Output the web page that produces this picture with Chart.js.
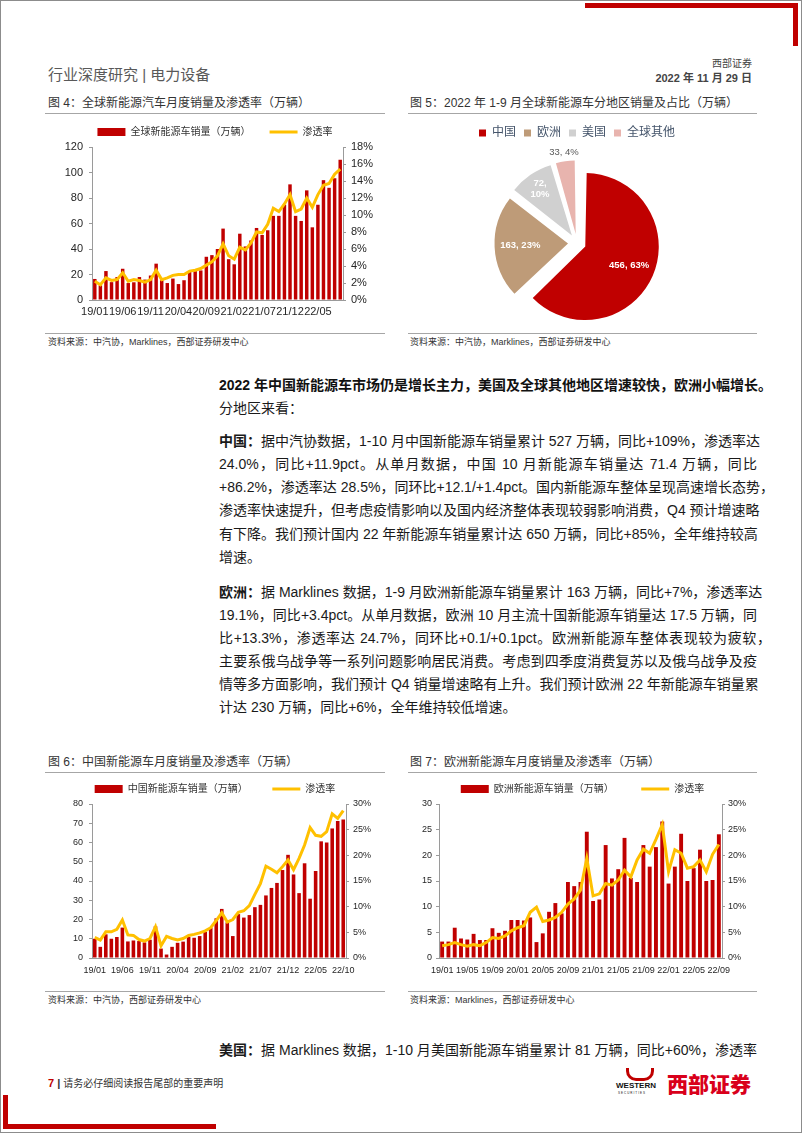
<!DOCTYPE html>
<html>
<head>
<meta charset="utf-8">
<script src="https://cdn.jsdelivr.net/npm/chart.js@4.4.1/dist/chart.umd.min.js"></script>
<style>
html, body { margin: 0; padding: 0; background: #fff; }
body { width: 802px; height: 1133px; position: relative; overflow: hidden;
       font-family: "Liberation Sans", Arial, "Noto Sans CJK SC", sans-serif; color: #222; }
.frame { position: absolute; left: 0; top: 0; width: 800px; height: 1131px; border: 1px solid #8c8c8c; }
.abs { position: absolute; white-space: nowrap; }
.bar { position: absolute; background: #C00000; }
.figtitle { font-size: 12px; color: #333; line-height: 14px; }
.rule { position: absolute; height: 1px; background: #a6a6a6; }
.src { font-size: 9px; color: #333; line-height: 12px; }
.ln { position: absolute; left: 219px; width: 538px; font-size: 14px; line-height: 20px;
      white-space: nowrap; text-align: justify; text-align-last: justify; color: #1a1a1a; }
.ln.end { text-align-last: left; }
.ln.hang { width: 552px; }
canvas { position: absolute; }
</style>
</head>
<body>
<div class="frame"></div>

<!-- header -->
<div class="bar" style="left:585px;top:3px;width:213px;height:5px"></div>
<div class="bar" style="left:793px;top:3px;width:5px;height:43px"></div>
<div class="abs" style="left:48px;top:63px;font-size:15px;color:#595959">行业深度研究 | 电力设备</div>
<div class="abs" style="right:50px;top:55px;font-size:10px;color:#444">西部证券</div>
<div class="abs" style="right:50px;top:69px;font-size:11px;color:#444;font-weight:bold">2022 年 11 月 29 日</div>

<!-- figure titles -->
<div class="abs figtitle" style="left:48px;top:96px">图 4：全球新能源汽车月度销量及渗透率（万辆）</div>
<div class="rule" style="left:45px;top:113px;width:340px"></div>
<div class="abs figtitle" style="left:410px;top:96px">图 5：2022 年 1-9 月全球新能源车分地区销量及占比（万辆）</div>
<div class="rule" style="left:408px;top:113px;width:349px"></div>
<div class="rule" style="left:45px;top:333px;width:340px"></div>
<div class="abs src" style="left:48px;top:336px">资料来源：中汽协，Marklines，西部证券研发中心</div>
<div class="rule" style="left:408px;top:333px;width:349px"></div>
<div class="abs src" style="left:410px;top:336px">资料来源：中汽协，Marklines，西部证券研发中心</div>

<canvas id="globalChart" width="340" height="203" style="left:45px;top:119px"></canvas>
<canvas id="regionChart" width="352" height="218" style="left:408px;top:119px"></canvas>

<!-- body text -->
<div class="abs" style="left:219px;top:375px;font-size:14px;line-height:20px;font-weight:bold;color:#111">2022 年中国新能源车市场仍是增长主力，美国及全球其他地区增速较快，欧洲小幅增长。</div>
<div class="abs" style="left:219px;top:398px;font-size:14px;line-height:20px;color:#1a1a1a">分地区来看：</div>

<div class="ln" style="top:431px"><b>中国：</b>据中汽协数据，1-10 月中国新能源车销量累计 527 万辆，同比+109%，渗透率达</div>
<div class="ln" style="top:454px">24.0%，同比+11.9pct。从单月数据，中国 10 月新能源车销量达 71.4 万辆，同比</div>
<div class="ln hang" style="top:477px">+86.2%，渗透率达 28.5%，同环比+12.1/+1.4pct。国内新能源车整体呈现高速增长态势，</div>
<div class="ln" style="top:500px">渗透率快速提升，但考虑疫情影响以及国内经济整体表现较弱影响消费，Q4 预计增速略</div>
<div class="ln" style="top:524px">有下降。我们预计国内 22 年新能源车销量累计达 650 万辆，同比+85%，全年维持较高</div>
<div class="ln end" style="top:547px">增速。</div>

<div class="ln" style="top:582px"><b>欧洲：</b>据 Marklines 数据，1-9 月欧洲新能源车销量累计 163 万辆，同比+7%，渗透率达</div>
<div class="ln" style="top:605px">19.1%，同比+3.4pct。从单月数据，欧洲 10 月主流十国新能源车销量达 17.5 万辆，同</div>
<div class="ln hang" style="top:628px">比+13.3%，渗透率达 24.7%，同环比+0.1/+0.1pct。欧洲新能源车整体表现较为疲软，</div>
<div class="ln" style="top:651px">主要系俄乌战争等一系列问题影响居民消费。考虑到四季度消费复苏以及俄乌战争及疫</div>
<div class="ln" style="top:674px">情等多方面影响，我们预计 Q4 销量增速略有上升。我们预计欧洲 22 年新能源车销量累</div>
<div class="ln end" style="top:697px">计达 230 万辆，同比+6%，全年维持较低增速。</div>

<!-- lower figures -->
<div class="abs figtitle" style="left:48px;top:755px">图 6：中国新能源车月度销量及渗透率（万辆）</div>
<div class="rule" style="left:45px;top:772px;width:340px"></div>
<div class="abs figtitle" style="left:410px;top:755px">图 7：欧洲新能源车月度销量及渗透率（万辆）</div>
<div class="rule" style="left:408px;top:772px;width:349px"></div>
<div class="rule" style="left:45px;top:991px;width:340px"></div>
<div class="abs src" style="left:48px;top:994px">资料来源：中汽协，西部证券研发中心</div>
<div class="rule" style="left:408px;top:991px;width:349px"></div>
<div class="abs src" style="left:410px;top:994px">资料来源：Marklines，西部证券研发中心</div>

<canvas id="chinaChart" width="340" height="202" style="left:45px;top:776px"></canvas>
<canvas id="europeChart" width="355" height="202" style="left:405px;top:776px"></canvas>

<div class="ln" style="top:1040px"><b>美国：</b>据 Marklines 数据，1-10 月美国新能源车销量累计 81 万辆，同比+60%，渗透率</div>

<!-- footer -->
<div class="abs" style="left:48px;top:1075px;font-size:11px;color:#333"><b style="color:#C00000">7</b> <b>|</b> <span style="font-size:10px">请务必仔细阅读报告尾部的重要声明</span></div>
<div class="abs" style="left:626px;top:1068px;width:22px;height:10px;border:3px solid #C00000;border-top:none;border-radius:0 0 10px 10px"></div>
<div class="abs" style="left:616px;top:1081px;font-size:8px;font-weight:bold;color:#111">WESTERN</div>
<div class="abs" style="left:618px;top:1091px;font-size:3px;color:#111;letter-spacing:1px">SECURITIES</div>
<div class="abs" style="left:667px;top:1068px;font-size:21px;font-weight:900;color:#D9001B;font-family:'Noto Sans CJK SC'">西部证券</div>
<div class="bar" style="left:3px;top:1095px;width:5px;height:34px"></div>
<div class="bar" style="left:3px;top:1124px;width:213px;height:5px"></div>

<script>
// month labels shared by the monthly charts
const months = ['19/01', '19/02', '19/03', '19/04', '19/05', '19/06', '19/07', '19/08', '19/09', '19/10', '19/11', '19/12',
  '20/01', '20/02', '20/03', '20/04', '20/05', '20/06', '20/07', '20/08', '20/09', '20/10', '20/11', '20/12',
  '21/01', '21/02', '21/03', '21/04', '21/05', '21/06', '21/07', '21/08', '21/09', '21/10', '21/11', '21/12',
  '22/01', '22/02', '22/03', '22/04', '22/05', '22/06', '22/07', '22/08', '22/09', '22/10'];

// fig 4: global monthly sales (万辆) and penetration (%), 19/01 - 22/09
const globalSales = [16.5, 11.5, 22.7, 14, 18, 24.5, 13.3, 13.9, 18, 16, 19.2, 28.5,
  15.5, 13.3, 16.8, 12.5, 15.5, 21.9, 22.7, 23.2, 33.9, 35.2, 40, 56,
  32, 28, 52, 42, 46.7, 56.5, 51, 54.7, 66, 66, 74.7, 90.7,
  66, 62, 86, 57, 74.7, 94, 88, 95.5, 110];
const globalRate = [2.2, 1.8, 2.6, 2.3, 2.4, 3.2, 2.2, 2.4, 2.3, 2.1, 2.4, 3.5,
  2.4, 2.6, 2.9, 3.0, 3.0, 3.4, 3.5, 3.7, 4.1, 4.5, 5.2, 6.6,
  5.2, 4.8, 6.2, 5.9, 6.7, 8.0, 7.9, 8.9, 10.8, 10.4, 11.3, 12.4,
  10.4, 10.7, 12.0, 10.9, 12.4, 13.5, 13.7, 14.8, 15.4];

// fig 5: 2022 Jan-Sep sales by region
const regionNames = ['中国', '欧洲', '美国', '全球其他'];
const regionSales = [456, 163, 72, 33];
const regionShares = [63, 23, 10, 4];

// fig 6: China monthly sales and penetration, 19/01 - 22/10
const chinaSales = [10, 5.8, 12.3, 10, 10.9, 15.8, 8.6, 9.1, 8.8, 8.1, 9.5, 16.5,
  4.9, 1.8, 5.8, 7.9, 8.5, 10.9, 10.5, 11.4, 13.5, 15.8, 20.6, 25.5,
  18.5, 11.4, 22.8, 21, 22.3, 26.4, 27.6, 32.5, 36.4, 39, 45.7, 53.6,
  43.4, 33.7, 49.2, 30.8, 45.2, 60.6, 60, 67.3, 71.2, 72];
const chinaRate = [4.0, 3.5, 5.1, 5.1, 5.6, 7.4, 4.5, 4.4, 3.6, 3.3, 3.8, 6.1,
  2.4, 4.2, 3.8, 3.5, 3.8, 4.4, 4.6, 4.9, 5.3, 5.9, 7.3, 8.8,
  7.0, 7.5, 8.9, 9.2, 10.2, 12.4, 14.5, 17.9, 17.3, 16.6, 17.8, 19.1,
  17.2, 19.4, 22.0, 25.4, 23.9, 23.7, 24.6, 28.1, 27.2, 28.7];

// fig 7: Europe monthly sales and penetration, 19/01 - 22/09
const europeSales = [3.2, 3.2, 5.9, 3.8, 3.6, 4.7, 3.5, 3.5, 5.8, 4.9, 5.3, 7.4,
  7.4, 7.3, 7.9, 3.1, 4.8, 9.0, 10.7, 8.7, 14.8, 14.0, 14.8, 24.6,
  11.1, 11.4, 22.0, 15.5, 17.3, 23.4, 15.6, 14.8, 22.0, 17.8, 21.6, 26.6,
  14.5, 17.8, 24.2, 15.0, 17.5, 21.1, 15.0, 15.2, 24.1];
const europeRate = [2.4, 2.6, 3.0, 2.6, 2.3, 2.6, 2.4, 3.0, 4.0, 3.8, 4.3, 5.3,
  5.9, 6.3, 8.9, 9.9, 7.1, 7.4, 7.9, 8.9, 10.5, 11.5, 13.2, 19.4,
  12.1, 12.5, 14.5, 14.2, 15.2, 17.1, 15.8, 19.1, 21.2, 20.4, 23.1, 26.0,
  16.8, 21.1, 20.4, 17.5, 17.8, 19.1, 16.8, 20.2, 22.1];

const RED = '#C00000';
const GOLD = '#FFC000';
const AXIS = '#9a9a9a';
const TICK = '#262626';
const CJK = '"Liberation Sans", Arial, "Noto Sans CJK SC", sans-serif';
const PIE_COLORS = ['#C00000', '#BE9B78', '#D0D0D0', '#E8B4AE'];
const PIE_RADIUS = 73.5;
const PIE_OFFSET = 36; // chart.js draws a quarter of this as the explode distance

Chart.defaults.font.family = CJK;
Chart.defaults.color = TICK;

// bar + penetration line chart with two y axes
function comboChart(id, o) {
    return new Chart(document.getElementById(id), {
        data: {
            labels: o.labels,
            datasets: [
                {
                    type: 'bar',
                    label: o.barLabel,
                    data: o.bars,
                    backgroundColor: RED,
                    yAxisID: 'y',
                    order: 2,
                    barPercentage: o.barPct,
                    categoryPercentage: 1
                },
                {
                    type: 'line',
                    label: '渗透率',
                    data: o.rate,
                    borderColor: GOLD,
                    backgroundColor: GOLD,
                    borderWidth: o.lineW,
                    pointRadius: 0,
                    tension: 0,
                    yAxisID: 'y1',
                    order: 1
                }
            ]
        },
        options: {
            responsive: false,
            animation: false,
            layout: { padding: 0 },
            plugins: {
                tooltip: { enabled: false },
                legend: {
                    position: 'top',
                    labels: {
                        usePointStyle: true,
                        pointStyleWidth: 28,
                        boxHeight: 8,
                        padding: o.legPad,
                        color: '#333',
                        font: { size: o.legFont },
                        sort: (a, b) => a.datasetIndex - b.datasetIndex,
                        generateLabels: function (chart) {
                            const items = Chart.defaults.plugins.legend.labels.generateLabels(chart);
                            items.forEach(item => {
                                if (item.datasetIndex === 0) {
                                    item.pointStyle = 'rect';
                                    item.fillStyle = RED;
                                    item.lineWidth = 0;
                                    item.text = item.text + o.gap;
                                } else {
                                    item.pointStyle = 'line';
                                    item.strokeStyle = GOLD;
                                    item.lineWidth = 3;
                                }
                            });
                            return items;
                        }
                    }
                }
            },
            scales: {
                x: {
                    grid: { display: false, drawTicks: false },
                    border: { display: true, color: AXIS },
                    ticks: {
                        autoSkip: false,
                        maxRotation: 0,
                        padding: o.xPad,
                        font: { size: o.tickFont },
                        color: TICK,
                        callback: function (v, i) {
                            return i % o.every === 0 ? this.getLabelForValue(v) : '';
                        }
                    },
                    afterFit: s => { s.height = o.xH; }
                },
                y: {
                    position: 'left',
                    min: 0,
                    max: o.yMax,
                    ticks: { stepSize: o.yStep, padding: o.yPad, font: { size: o.tickFont }, color: TICK },
                    grid: { drawOnChartArea: false, drawTicks: true, tickLength: 3, color: AXIS },
                    border: { color: AXIS },
                    afterFit: s => { s.width = o.yW; }
                },
                y1: {
                    position: 'right',
                    min: 0,
                    max: o.rMax,
                    ticks: {
                        stepSize: o.rStep,
                        padding: o.rPad,
                        font: { size: o.tickFont },
                        color: TICK,
                        callback: v => v + '%'
                    },
                    grid: { drawOnChartArea: false, drawTicks: true, tickLength: 3, color: AXIS },
                    border: { color: AXIS },
                    afterFit: s => { s.width = o.rW; }
                }
            }
        }
    });
}

comboChart('globalChart', {
    labels: months.slice(0, 45), bars: globalSales, rate: globalRate,
    barLabel: '全球新能源车销量（万辆）', gap: '    ',
    barPct: 0.62, lineW: 3, legPad: 8, legFont: 10, tickFont: 11,
    every: 5, xPad: 5, xH: 22, yMax: 120, yStep: 20, yPad: 6, yW: 47,
    rMax: 18, rStep: 2, rPad: 5, rW: 42
});

comboChart('chinaChart', {
    labels: months, bars: chinaSales, rate: chinaRate,
    barLabel: '中国新能源车销量（万辆）', gap: '      ',
    barPct: 0.65, lineW: 3, legPad: 8, legFont: 10, tickFont: 9,
    every: 5, xPad: 7, xH: 20, yMax: 80, yStep: 10, yPad: 6, yW: 47,
    rMax: 30, rStep: 5, rPad: 4, rW: 39
});

comboChart('europeChart', {
    labels: months.slice(0, 45), bars: europeSales, rate: europeRate,
    barLabel: '欧洲新能源车销量（万辆）', gap: '       ',
    barPct: 0.62, lineW: 3, legPad: 8, legFont: 10, tickFont: 9,
    every: 4, xPad: 7, xH: 20, yMax: 30, yStep: 5, yPad: 4, yW: 34,
    rMax: 30, rStep: 5, rPad: 3, rW: 38
});

// keep every exploded slice at the same radius, chart.js grows narrow ones by offset*fix
const pieRadiusPlugin = {
    id: 'pieRadius',
    beforeDatasetsDraw(chart) {
        chart.getDatasetMeta(0).data.forEach(arc => {
            const e = (arc.options.offset || 0) / 4;
            const circ = arc.endAngle - arc.startAngle;
            const fix = 1 - Math.sin(Math.min(Math.PI, circ));
            arc.outerRadius = PIE_RADIUS - e * fix;
        });
    }
};

// slice labels "value, share%" for the pie
const pieLabelPlugin = {
    id: 'pieLabels',
    afterDatasetsDraw(chart) {
        const ctx = chart.ctx;
        const meta = chart.getDatasetMeta(0);
        const radial = [0.65, 0.65, 0.77, 1.12];
        meta.data.forEach((arc, i) => {
            const mid = (arc.startAngle + arc.endAngle) / 2;
            const dist = (arc.options.offset || 0) / 4 + PIE_RADIUS * radial[i];
            const x = arc.x + Math.cos(mid) * dist;
            const y = arc.y + Math.sin(mid) * dist;
            const inside = radial[i] < 1;
            ctx.save();
            ctx.textAlign = 'center';
            ctx.textBaseline = 'middle';
            ctx.fillStyle = inside ? '#fff' : '#595959';
            ctx.font = (inside ? 'bold ' : '') + '9.5px "Liberation Sans", Arial';
            if (i === 2) {
                ctx.fillText(regionSales[i] + ',', x, y - 5);
                ctx.fillText(regionShares[i] + '%', x, y + 6);
            } else {
                ctx.fillText(regionSales[i] + ', ' + regionShares[i] + '%', x, y);
            }
            ctx.restore();
        });
    }
};

new Chart(document.getElementById('regionChart'), {
    type: 'pie',
    data: {
        labels: regionNames,
        datasets: [{
            data: regionSales,
            backgroundColor: PIE_COLORS,
            borderWidth: 0,
            offset: PIE_OFFSET,
            radius: PIE_RADIUS
        }]
    },
    options: {
        responsive: false,
        animation: false,
        radius: PIE_RADIUS,
        layout: { padding: { right: 14 } },
        plugins: {
            tooltip: { enabled: false },
            legend: {
                position: 'top',
                labels: {
                    boxWidth: 7,
                    boxHeight: 7,
                    padding: 8,
                    color: '#44546A',
                    font: { size: 12 }
                }
            }
        }
    },
    plugins: [pieRadiusPlugin, pieLabelPlugin]
});
</script>
</body>
</html>
